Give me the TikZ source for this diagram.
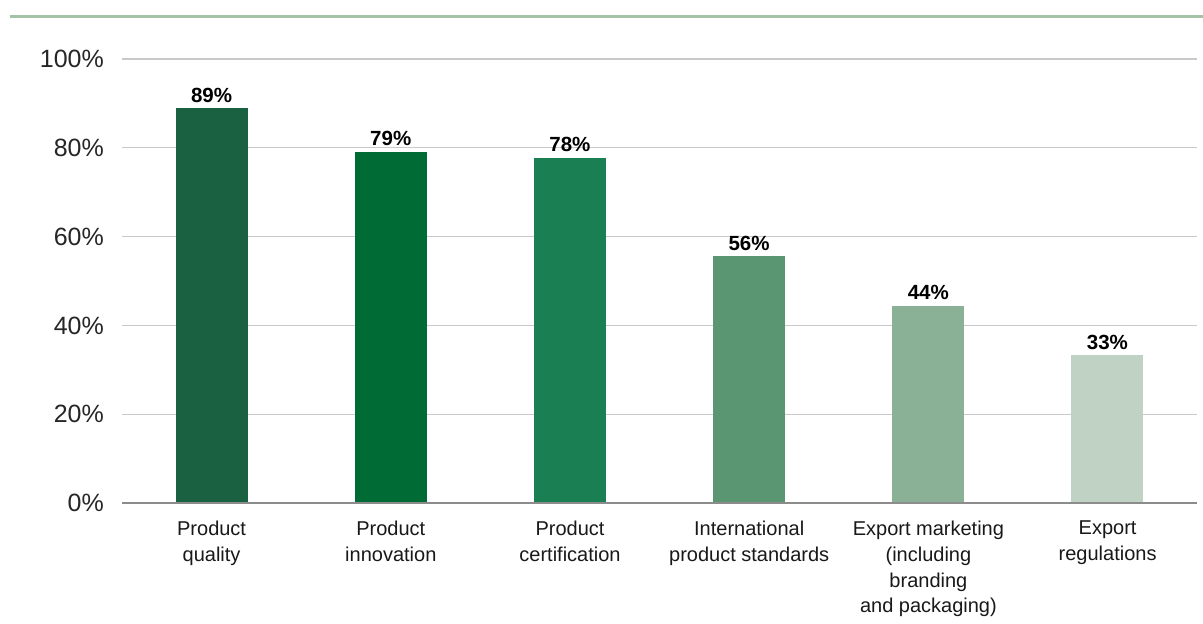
\documentclass[tikz,border=0pt]{standalone}
\usepackage{fontspec}
\setmainfont{Liberation Sans}
\definecolor{topline}{HTML}{A3C2A8}
\definecolor{gridc}{HTML}{C9C9C9}
\definecolor{axisc}{HTML}{8C8C8C}
\definecolor{barA}{HTML}{1A6141}
\definecolor{barB}{HTML}{006B35}
\definecolor{barC}{HTML}{1A7F52}
\definecolor{barD}{HTML}{5A9672}
\definecolor{barE}{HTML}{8AB096}
\definecolor{barF}{HTML}{BFD2C4}
\tikzset{
  gridline/.style={draw=gridc, line width=1.3pt},
  axisline/.style={draw=axisc, line width=2pt},
  ylab/.style={anchor=east, inner sep=0pt, font=\fontsize{25}{30}\selectfont, text=black!85},
  vlab/.style={anchor=base, inner sep=0pt, font=\fontsize{20.5}{24}\selectfont\bfseries},
  clab/.style={anchor=north, inner sep=0pt, align=center, font=\fontsize{20}{25.7}\selectfont, text=black!90},
}
\begin{document}
\begin{tikzpicture}[x=1pt,y=-1pt]
\useasboundingbox (0,0) rectangle (1203,624);
\fill[white] (0,0) rectangle (1203,624);
% top rule
\coordinate (tl) at (10,16);
\coordinate (tr) at (1203,16);
\draw[draw=topline, line width=3pt] (tl) -- (tr);
% grid lines and y labels
\foreach \v in {20,40,60,80,100} {
  \coordinate (gl\v) at (122,{503-4.44*\v});
  \coordinate (gr\v) at (1197,{503-4.44*\v});
  \draw[gridline] (gl\v) -- (gr\v);
}
\foreach \v in {0,20,40,60,80,100} {
  \node[ylab] (y\v) at (104,{503-4.44*\v}) {\v\%};
}
% bars
\foreach \i/\val/\txt/\col in {0/88.9/89/barA,1/79.1/79/barB,2/77.8/78/barC,3/55.6/56/barD,4/44.4/44/barE,5/33.3/33/barF} {
  \pgfmathsetmacro{\cx}{122+179.17*(\i+0.5)}
  \fill[\col] (\cx-36,503) rectangle (\cx+36,{503-4.44*\val});
  \node[vlab] (v\i) at (\cx,{503-4.44*\val-6}) {\txt\%};
}
% axis
\coordinate (al) at (122,503);
\coordinate (ar) at (1197,503);
\draw[axisline] (al) -- (ar);
% category labels
\node[clab] (c0) at (211.6,521) {Product\\quality};
\node[clab] (c1) at (390.8,521) {Product\\innovation};
\node[clab] (c2) at (570.0,521) {Product\\certification};
\node[clab] (c3) at (749.2,521) {International\\product standards};
\node[clab] (c4) at (928.4,521) {Export marketing\\(including\\branding\\and packaging)};
\node[clab] (c5) at (1107.6,521) {Export\\regulations};
\end{tikzpicture}
\end{document}
